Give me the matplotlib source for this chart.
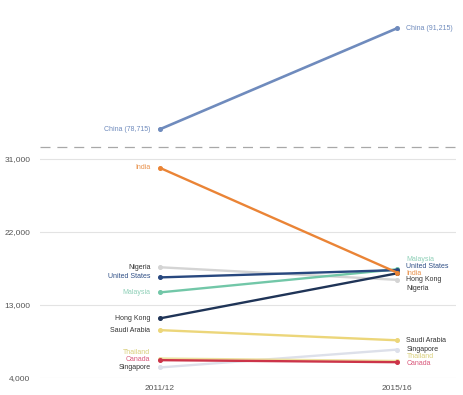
import matplotlib
matplotlib.use("Agg")
import matplotlib.pyplot as plt
from matplotlib.lines import Line2D

plt.rcParams['font.family'] = ['Liberation Sans', 'DejaVu Sans']

periods = ["2011/12", "2015/16"]
countries = ["Nigeria", "Singapore", "Thailand", "Saudi Arabia", "Malaysia",
             "Hong Kong", "United States", "India", "Canada"]
start_vals = [17650, 5300, 6400, 9900, 14550, 11350, 16400, 29900, 6200]
end_vals = [16100, 7500, 6100, 8650, 17400, 16900, 17300, 17000, 5950]
china_vals = [78715, 91215]
yticks = [4000, 13000, 22000, 31000]

colors = {
    "Nigeria": "#d4d4d4", "Singapore": "#dde0ea", "Thailand": "#ece2a0",
    "Saudi Arabia": "#ecd67a", "Malaysia": "#72c7a8", "Hong Kong": "#1f3457",
    "United States": "#28487f", "India": "#ea8436", "Canada": "#cc3449",
}
label_colors = {
    "Nigeria": "#333333", "Singapore": "#333333", "Thailand": "#d9cf7a",
    "Saudi Arabia": "#333333", "Malaysia": "#8fd0b8", "Hong Kong": "#333333",
    "United States": "#2f4f86", "India": "#e8904a", "Canada": "#d9577a",
}
# label placement (layout only)
left_label_y = {"India": 29900, "Nigeria": 17680, "United States": 16450,
                "Malaysia": 14600, "Hong Kong": 11390, "Saudi Arabia": 9910,
                "Thailand": 7200, "Canada": 6220, "Singapore": 5350}
right_label_y = {"Malaysia": 18550, "United States": 17800, "India": 16940,
                 "Hong Kong": 16080, "Nigeria": 14970, "Saudi Arabia": 8680,
                 "Singapore": 7570, "Thailand": 6590, "Canada": 5730}

fig = plt.figure(figsize=(4.64, 3.95), dpi=100)
x0, x1 = 40/464, 456/464
split = 0.628
ax_top = fig.add_axes([x0, split, x1 - x0, 1 - split])
ax = fig.add_axes([x0, 17/395, x1 - x0, split - 17/395])

xs = [0, 1]
xlim = (-0.506, 1.249)
for a in (ax, ax_top):
    a.set_xlim(*xlim)
    a.patch.set_visible(False)
    for s in a.spines.values():
        s.set_visible(False)
    a.tick_params(length=0)

# bottom panel
ax.set_ylim(4000, 32480)
for t in yticks:
    ax.axhline(t, color="#e3e3e3", lw=0.8, zorder=0)
ax.set_yticks(yticks)
ax.set_yticklabels([f"{t:,}" for t in yticks], fontsize=6, color="#555555")
ax.set_xticks(xs)
ax.set_xticklabels(periods, fontsize=6, color="#555555")
ax.tick_params(axis='y', pad=7)
ax.tick_params(axis='x', pad=5)
for c, v0, v1 in zip(countries, start_vals, end_vals):
    ax.plot(xs, [v0, v1], color=colors[c], lw=1.7, marker='o', ms=2.6,
            solid_capstyle='round', zorder=3)
    ax.text(-0.04, left_label_y[c], c, ha='right', va='center', fontsize=5,
            color=label_colors[c])
    ax.text(1.04, right_label_y[c], c, ha='left', va='center', fontsize=5,
            color=label_colors[c])

# top panel (China)
ax_top.set_ylim(76525, 94718)
ax_top.set_xticks([])
ax_top.set_yticks([])
ax_top.plot(xs, china_vals, color="#6f8bbd", lw=1.9, marker='o', ms=2.6, zorder=3)
ax_top.text(-0.04, china_vals[0], f"China ({china_vals[0]:,})", ha='right',
            va='center', fontsize=5, color="#6f8bbd")
ax_top.text(1.04, china_vals[1], f"China ({china_vals[1]:,})", ha='left',
            va='center', fontsize=5, color="#6f8bbd")

# axis-break dashed line
fig.add_artist(Line2D([x0, x1], [split, split], transform=fig.transFigure,
                      color="#a8a8a8", lw=0.9, ls=(0, (8, 5.5))))

fig.savefig("out.png", dpi=100)
